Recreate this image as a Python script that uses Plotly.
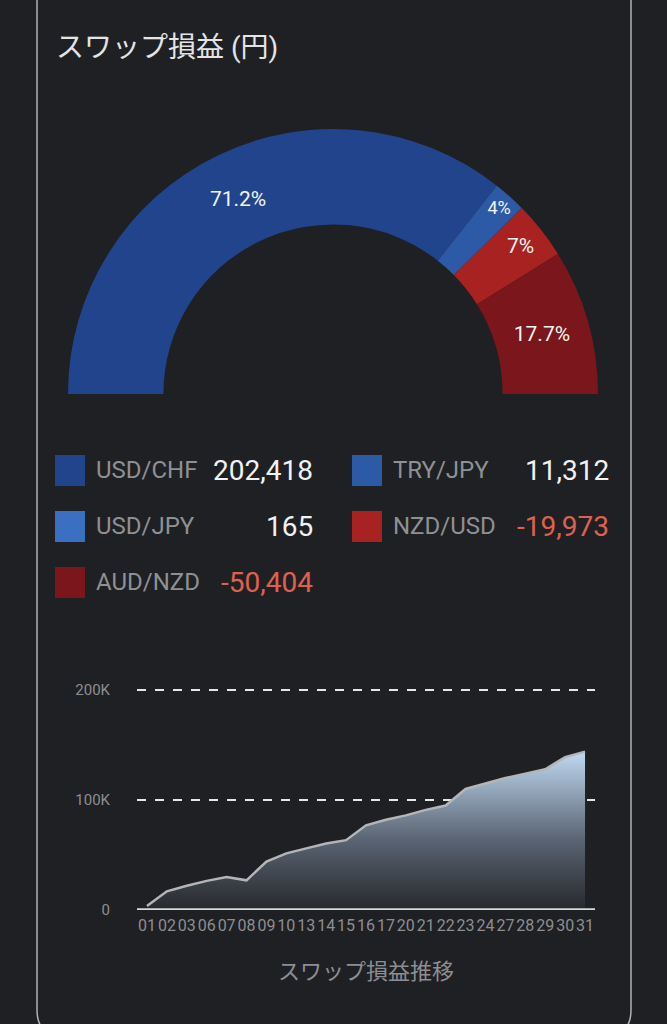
import plotly.graph_objs as go

# swap P/L by currency pair (yen)
pairs = ['USD/CHF', 'TRY/JPY', 'USD/JPY', 'NZD/USD', 'AUD/NZD']
swap = [202418, 11312, 165, -19973, -50404]
pair_colors = ['#22448c', '#2d5aa6', '#3a6fc2', '#a82222', '#7b171c']

# cumulative swap P/L through the month
days = ['01', '02', '03', '06', '07', '08', '09', '10', '13', '14', '15', '16',
        '17', '20', '21', '22', '23', '24', '27', '28', '29', '30', '31']
cum_swap = [3600, 17000, 22000, 26500, 30000, 27000, 44000, 51500, 56000, 60500,
            63500, 77000, 82000, 86000, 91000, 95000, 110000, 115000, 120000,
            124000, 128000, 139000, 144000]
y_ticks = [0, 100000, 200000]
y_tick_text = ['0', '100K', '200K']

BG = '#1f2024'
W, H = 667, 1024
FONT = 'Roboto, "Noto Sans CJK JP", sans-serif'


def px(x):
    return x / W


def py(y):
    return 1 - y / H


abs_swap = [abs(v) for v in swap]
total = sum(abs_swap)
pct_text = []
for v in abs_swap:
    p = v / total * 100
    s = f'{p:.1f}'.rstrip('0').rstrip('.')
    pct_text.append(s + '%' if p >= 1 else '')

fig = go.Figure()

# half donut: real slices on top, an invisible slice as big as all of them below
fig.add_trace(go.Pie(
    values=abs_swap + [total],
    labels=pairs + [''],
    text=pct_text + [''],
    textinfo='text',
    textposition='inside',
    insidetextorientation='horizontal',
    textfont=dict(color='#f4f4f4', size=21, family=FONT),
    marker=dict(colors=pair_colors + ['rgba(0,0,0,0)'], line=dict(width=0)),
    sort=False,
    direction='clockwise',
    rotation=270,
    hole=0.64,
    showlegend=False,
    hoverinfo='skip',
    automargin=False,
    domain=dict(x=[px(68), px(598)], y=[py(659), py(129)]),
))

# area chart
fig.add_trace(go.Scatter(
    x=days, y=cum_swap, mode='lines',
    line=dict(color='#b4b5b8', width=2.5),
    fill='tozeroy',
    fillgradient=dict(type='vertical', start=0, stop=max(cum_swap),
                      colorscale=[[0, '#26282c'], [0.45, '#5b6574'], [1, '#c0d9f2']]),
    showlegend=False, hoverinfo='skip',
))

fig.update_layout(
    width=W, height=H, autosize=False,
    margin=dict(l=0, r=0, t=0, b=0, autoexpand=False),
    paper_bgcolor=BG, plot_bgcolor=BG,
    font=dict(family=FONT, color='#9a9b9e'),
    xaxis=dict(domain=[px(137), px(595)], type='category', automargin=False,
               tickfont=dict(size=16, color='#8d8e91'), ticks='', tickangle=0,
               ticklabelstandoff=4,
               showgrid=False, zeroline=False, showline=False,
               range=[-0.5, len(days) - 0.5],
               title=dict(text='スワップ損益推移', font=dict(size=22, color='#8d8e91'), standoff=29)),
    yaxis=dict(domain=[py(910), py(680)], range=[0, 200000 * 230 / 220],
               automargin=False,
               tickvals=y_ticks, ticktext=y_tick_text,
               tickfont=dict(size=15, color='#8d8e91'), ticks='',
               ticklabelstandoff=26,
               showgrid=True, gridcolor='#e6e6e6', gridwidth=1.5, griddash='dash',
               zeroline=False, showline=False),
)

shapes = []
# card border
shapes.append(dict(type='path', xref='paper', yref='paper', layer='below',
                   path=f'M {px(37)} {py(-20)} L {px(37)} {py(1010)} Q {px(37)} {py(1036)} {px(63)} {py(1036)} '
                        f'L {px(605)} {py(1036)} Q {px(631)} {py(1036)} {px(631)} {py(1010)} L {px(631)} {py(-20)}',
                   line=dict(color='#b0b1b4', width=1.5)))
# zero baseline
shapes.append(dict(type='line', xref='x domain', yref='y', x0=0, x1=1, y0=0, y1=0,
                   line=dict(color='#d8d8d8', width=3.5), layer='above'))

annotations = [dict(text='スワップ損益 (円)', x=px(54), y=py(47), xref='paper', yref='paper',
                    xanchor='left', yanchor='middle', showarrow=False,
                    font=dict(size=28, color='#e4e4e6', family=FONT))]

# custom legend with values
col_sq = [55, 352]
col_val = [315, 611]
row_y = [470, 526, 582]
for i, (name, val, col) in enumerate(zip(pairs, swap, pair_colors)):
    c, r = i % 2, i // 2
    x0, yc = col_sq[c], row_y[r]
    shapes.append(dict(type='rect', xref='paper', yref='paper',
                       x0=px(x0), x1=px(x0 + 30), y0=py(yc + 16), y1=py(yc - 15),
                       fillcolor=col, line=dict(width=0)))
    annotations.append(dict(text=name, x=px(x0 + 39), y=py(yc), xref='paper', yref='paper',
                            xanchor='left', yanchor='middle', showarrow=False,
                            font=dict(size=24, color='#8f9093', family=FONT)))
    annotations.append(dict(text=f'{val:,}', x=px(col_val[c]), y=py(yc), xref='paper', yref='paper',
                            xanchor='right', yanchor='middle', showarrow=False,
                            font=dict(size=28, color='#f2f2f2' if val >= 0 else '#e0604f', family=FONT)))

fig.update_layout(shapes=shapes, annotations=annotations)
fig.write_html('out.html', config={'displayModeBar': False},
               post_script="document.body.style.margin='0';document.body.style.background='#1f2024';")
